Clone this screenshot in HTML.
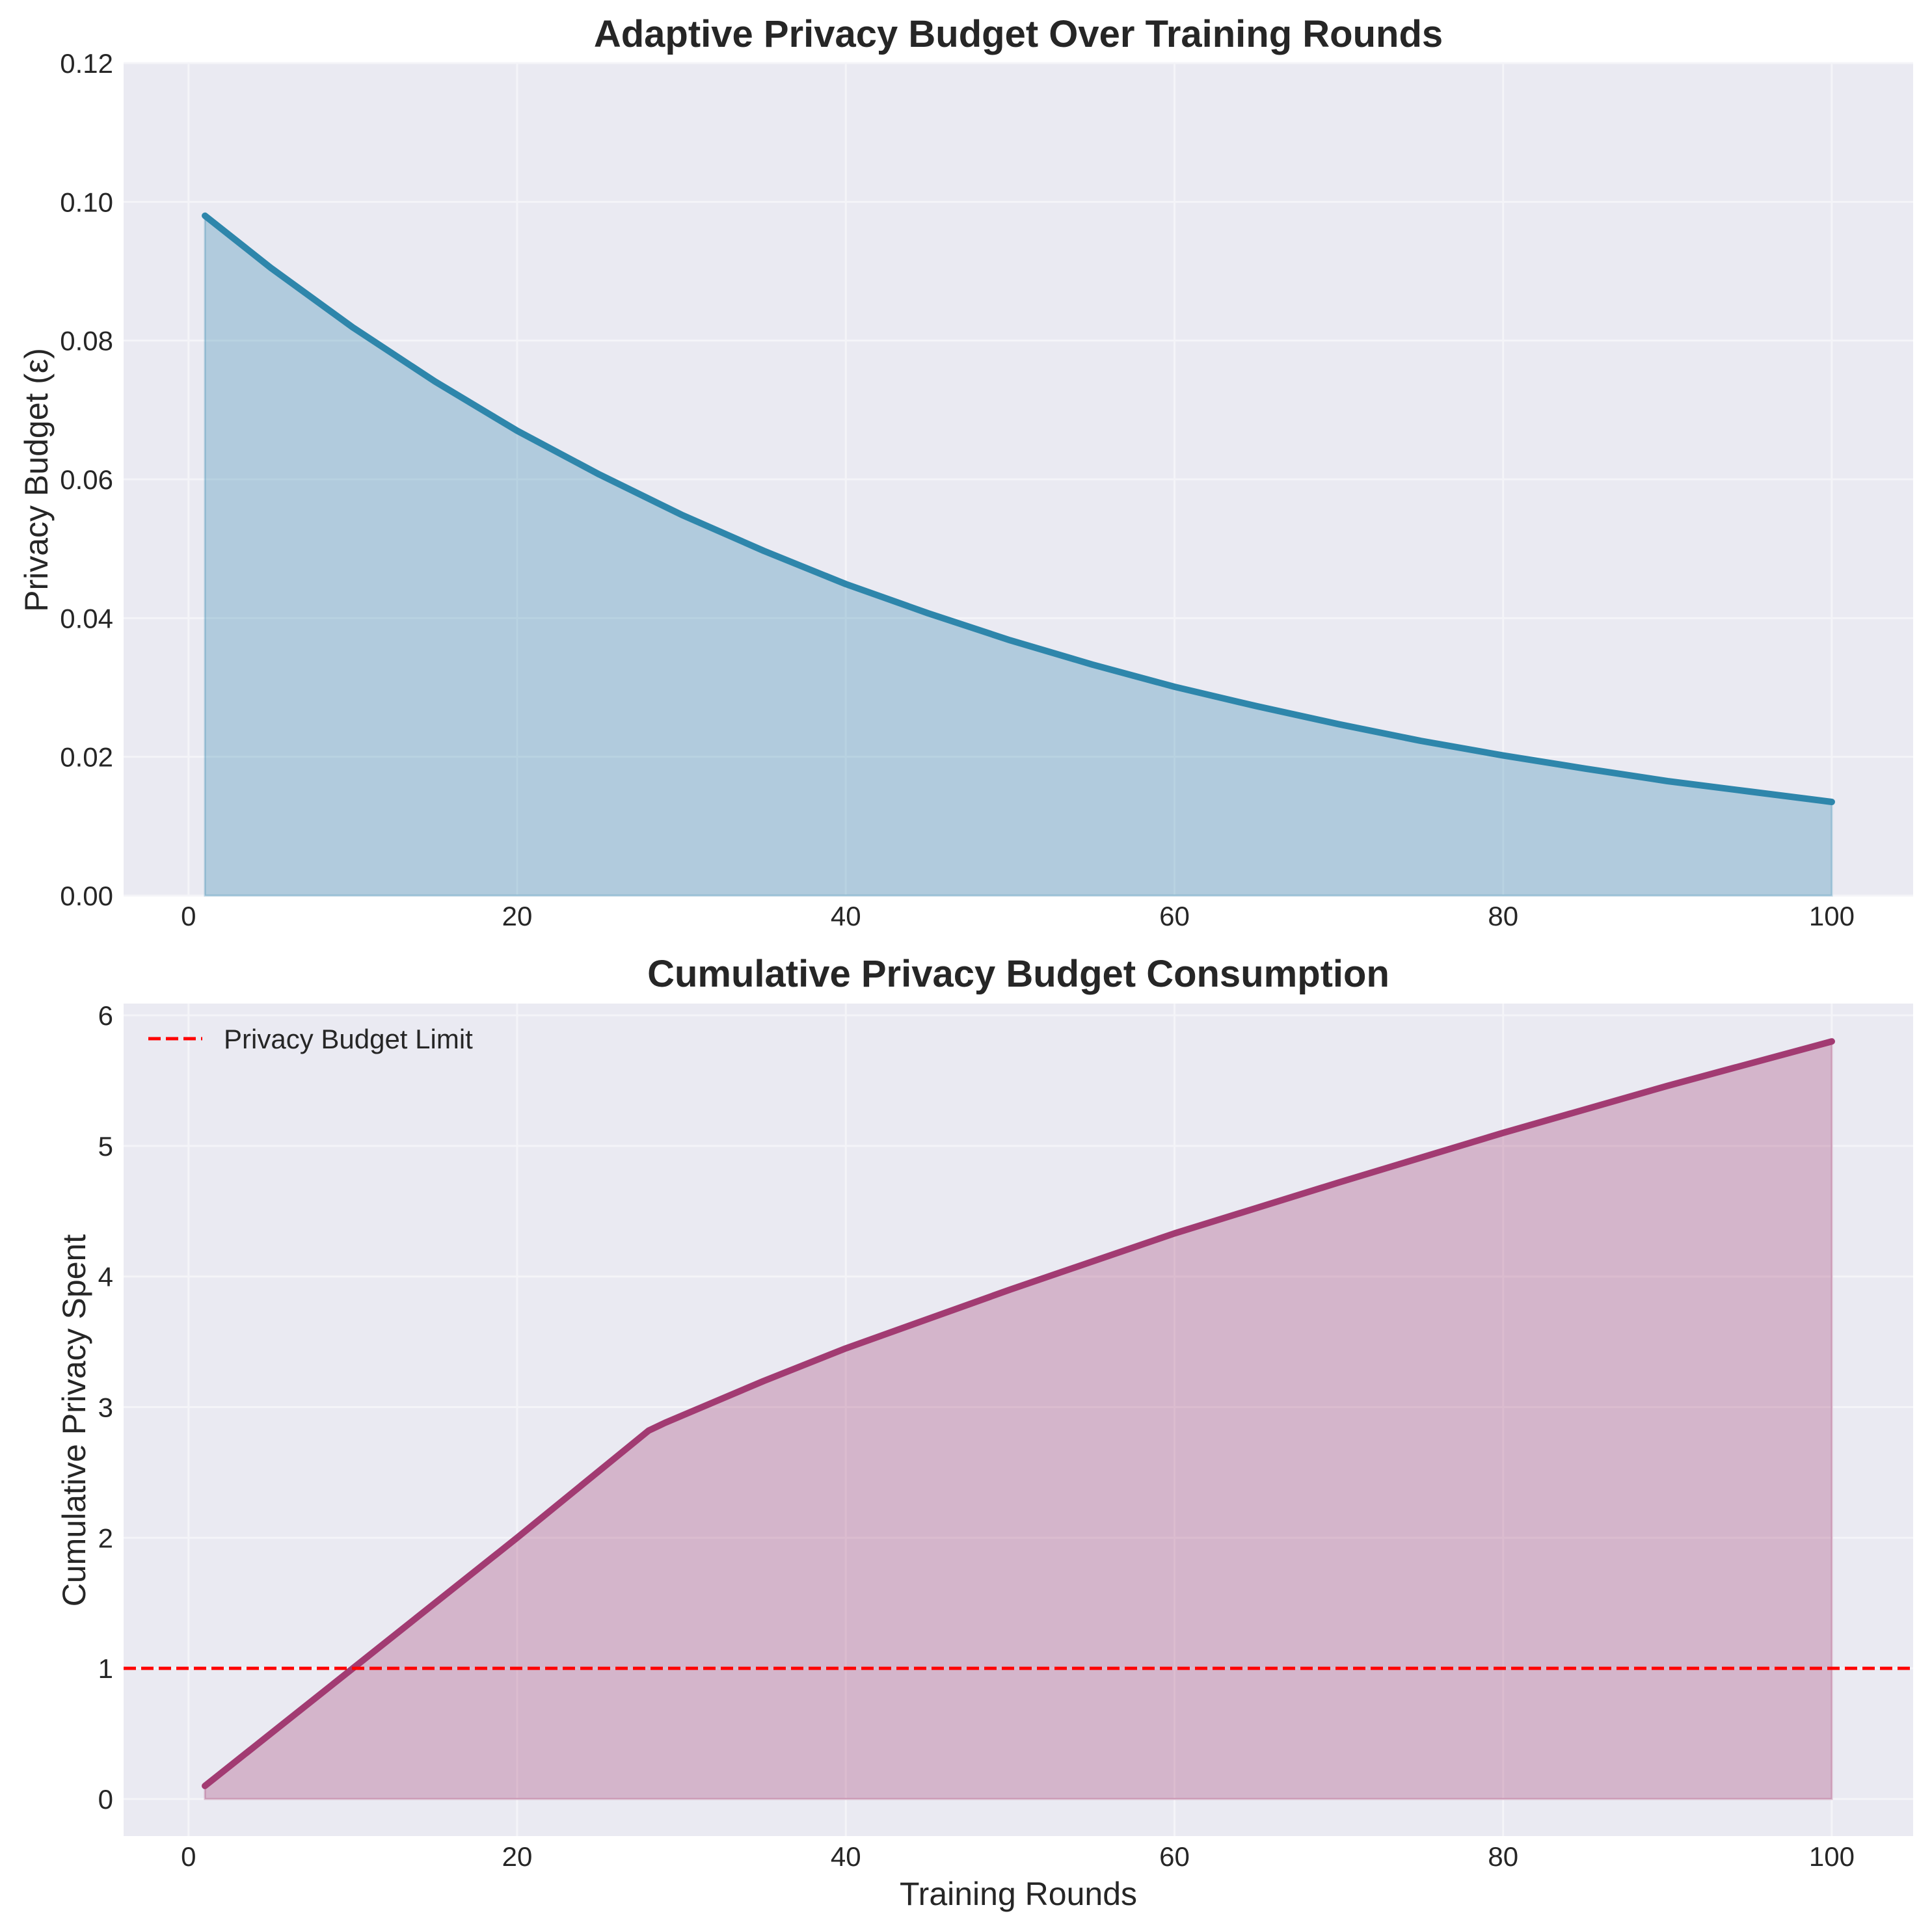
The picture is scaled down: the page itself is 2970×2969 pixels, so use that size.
<!DOCTYPE html>
<html><head><meta charset="utf-8"><style>
html,body{margin:0;padding:0;background:#fff;}
svg{display:block;font-family:"Liberation Sans",Arial,sans-serif;}
</style></head><body>
<svg id="fig" width="2970" height="2969" viewBox="0 0 2970 2969" xmlns="http://www.w3.org/2000/svg">
<rect width="2970" height="2969" fill="#fff"/>
<g id="topPanel"></g>
<g id="botPanel"></g>
</svg>
<script>
const budgetRounds = [1,5,10,15,20,25,30,35,40,45,50,55,60,65,70,75,80,85,90,95,100];
const budgetValues = [0.0980,0.0905,0.0819,0.0741,0.0670,0.0607,0.0549,0.0497,0.0449,0.0407,0.0368,0.0333,0.0301,0.0273,0.0247,0.0223,0.0202,0.0183,0.0165,0.0150,0.0135];
const cumRounds = [1,10,20,28,29,35,40,50,60,70,80,90,100];
const cumValues = [0.1,1.0,2.0,2.82,2.88,3.2,3.45,3.9,4.33,4.72,5.1,5.46,5.8];
const budgetLimit = 1;
const xTicks = [0,20,40,60,80,100];
const topYTicks = [0,0.02,0.04,0.06,0.08,0.10,0.12];
const topYLabels = ["0.00","0.02","0.04","0.06","0.08","0.10","0.12"];
const botYTicks = [0,1,2,3,4,5,6];
const botYLabels = ["0","1","2","3","4","5","6"];

const NS="http://www.w3.org/2000/svg";
function mk(p,tag,attrs){const e=document.createElementNS(NS,tag);for(const k in attrs)e.setAttribute(k,attrs[k]);p.appendChild(e);return e;}
const AL=190,AR=2941;
const sx=v=>AL+(v-(-3.95))/(104.95-(-3.95))*(AR-AL);

function panel(g,T,B,y0,y1,yt,yl,xs,ys,color,title,titleY,ylab,ylabX,ylabY){
  const sy=v=>B-(v-y0)/(y1-y0)*(B-T);
  const bg=mk(g,'rect',{x:AL,y:T,width:AR-AL,height:B-T,fill:'#eaeaf2'});
  
  
  xTicks.forEach(t=>{
    const l=mk(g,'line',{x1:sx(t),x2:sx(t),y1:T,y2:B,stroke:'#f4f4f8','stroke-width':3});
    
    
    const tx=mk(g,'text',{x:sx(t),y:B+46,'font-size':42,'text-anchor':'middle',fill:'#262626'});
    tx.textContent=t;
    
    
  });
  yt.forEach((t,i)=>{
    const l=mk(g,'line',{x1:AL,x2:AR,y1:sy(t),y2:sy(t),stroke:'#f4f4f8','stroke-width':3});
    
    
    const tx=mk(g,'text',{x:174,y:sy(t)+15,'font-size':42,'text-anchor':'end',fill:'#262626'});
    tx.textContent=yl[i];
    
    
  });
  let pts=xs.map((x,i)=>sx(x)+','+sy(ys[i])).join(' ');
  const area=mk(g,'polygon',{points:pts+' '+sx(xs[xs.length-1])+','+sy(0)+' '+sx(xs[0])+','+sy(0),fill:color,'fill-opacity':0.3,stroke:color,'stroke-opacity':0.3,'stroke-width':3});
  
  
  const line=mk(g,'polyline',{points:pts,fill:'none',stroke:color,'stroke-width':10,'stroke-linecap':'round','stroke-linejoin':'round'});
  
  
  const tt=mk(g,'text',{x:(AL+AR)/2,y:titleY,'font-size':58,'font-weight':'bold','text-anchor':'middle',fill:'#262626'});
  tt.textContent=title;
  
  
  const yl2=mk(g,'text',{x:0,y:0,'font-size':50,'text-anchor':'middle',fill:'#262626',transform:`translate(${ylabX},${ylabY}) rotate(-90)`});
  yl2.textContent=ylab;
  
  
  return sy;
}
const gTop=document.getElementById('topPanel');
panel(gTop,97,1377,0,0.12,topYTicks,topYLabels,budgetRounds,budgetValues,'#2E86AB','Adaptive Privacy Budget Over Training Rounds',72,'Privacy Budget (ε)',73,738);
const gBot=document.getElementById('botPanel');
const sy2=panel(gBot,1543,2823,-0.284,6.09,botYTicks,botYLabels,cumRounds,cumValues,'#A23B72','Cumulative Privacy Budget Consumption',1517,'Cumulative Privacy Spent',131,2184);
const lim=mk(gBot,'line',{x1:AL,x2:AR,y1:sy2(budgetLimit),y2:sy2(budgetLimit),stroke:'#ff0000','stroke-width':5,'stroke-dasharray':'19 8'});


const lg=mk(gBot,'g',{});


mk(lg,'line',{x1:228,x2:311,y1:1597,y2:1597,stroke:'#ff0000','stroke-width':5,'stroke-dasharray':'19 8'});
const lt=mk(lg,'text',{x:344,y:1612,'font-size':42,fill:'#262626'});
lt.textContent='Privacy Budget Limit';
const xl=mk(gBot,'text',{x:(AL+AR)/2,y:2929,'font-size':50,'text-anchor':'middle',fill:'#262626'});
xl.textContent='Training Rounds';


</script>
</body></html>
